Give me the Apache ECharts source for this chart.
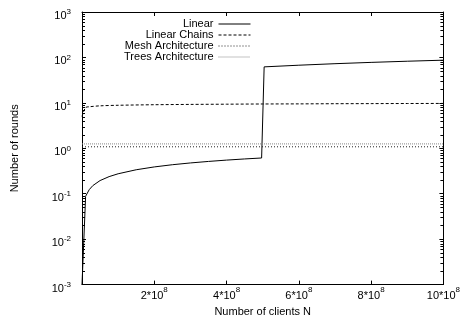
<!DOCTYPE html>
<html><head><meta charset="utf-8">
<script src="https://cdn.jsdelivr.net/npm/echarts@6/dist/echarts.min.js"></script>
<style>html,body{margin:0;padding:0;background:#fff}#c{width:463px;height:322px}</style>
</head><body><div id="c"></div>
<script>
// Number of clients N
const linearN = [0, 0.1e8, 0.2e8, 0.3e8, 0.5e8, 0.75e8, 1e8, 1.5e8, 2e8, 2.5e8, 3e8, 3.5e8, 4e8, 4.5e8, 4.97e8, 5.04e8, 6e8, 7e8, 8e8, 9e8, 10e8];
const linearRounds = [0.001, 0.088, 0.123, 0.151, 0.195, 0.238, 0.275, 0.337, 0.389, 0.435, 0.476, 0.514, 0.55, 0.583, 0.612, 62.0, 67.4, 72.8, 77.8, 82.5, 87.0];
const chainN = [0, 0.1e8, 0.2e8, 0.5e8, 1e8, 2e8, 3e8, 4e8, 5e8, 6e8, 7e8, 8e8, 9e8, 10e8];
const chainRounds = [5.0, 7.9, 8.2, 8.6, 8.85, 9.1, 9.25, 9.35, 9.45, 9.5, 9.58, 9.63, 9.68, 9.72];
const meshN = [0, 10e8];
const meshRounds = [1.08, 1.08];
const treesN = [0, 10e8];
const treesRounds = [1.25, 1.25];
const seriesNames = ['Linear', 'Linear Chains', 'Mesh Architecture', 'Trees Architecture'];
const minorTickValues = [];
[0.001, 0.01, 0.1, 1, 10, 100].forEach(d => { for (let k = 2; k <= 9; k++) minorTickValues.push(d * k); });
const xTickStep = 2e8;

const pairs = (xs, ys) => xs.map((x, i) => [x, ys[i]]);
const FONT = 'Liberation Sans, Arial, sans-serif';
const chart = echarts.init(document.getElementById('c'), null, {renderer: 'canvas'});

const yLabel = {
  show: true, margin: 11, fontFamily: FONT, color: '#000',
  formatter: v => '{b|10}{s|' + Math.round(Math.log10(v)) + '}',
  rich: {
    b: {fontSize: 11, lineHeight: 12, padding: [8, 0, 0, 0], fontFamily: FONT, color: '#000'},
    s: {fontSize: 8, lineHeight: 10, fontFamily: FONT, color: '#000'}
  }
};
const xLabel = {
  show: true, margin: 2, fontFamily: FONT, color: '#000',
  formatter: v => v === 0 ? '' : '{b|' + Math.round(v / 1e8) + '*10}{s|8}',
  rich: {
    b: {fontSize: 11, lineHeight: 12, padding: [6, 0, 0, 0], fontFamily: FONT, color: '#000'},
    s: {fontSize: 8, lineHeight: 10, padding: [0, 0, 6, 0], fontFamily: FONT, color: '#000'}
  }
};
const axisLine = {show: true, onZero: false, lineStyle: {color: '#000', width: 1}};
const tick = {show: true, inside: true, length: 4, lineStyle: {color: '#000', width: 1}};

chart.setOption({
  animation: false,
  backgroundColor: '#fff',
  grid: {left: 82, right: 19, top: 12, bottom: 36, containLabel: false},
  legend: {
    data: seriesNames, orient: 'vertical', align: 'right',
    right: 207, top: 13.5, itemWidth: 32, itemHeight: 8, itemGap: 0,
    itemStyle: {opacity: 0}, lineStyle: {width: 1},
    textStyle: {fontSize: 11, fontFamily: FONT, color: '#000', lineHeight: 11},
    selectedMode: false
  },
  xAxis: [
    {type: 'value', min: 0, max: 10e8, interval: xTickStep, position: 'bottom',
     axisLine, axisTick: tick, axisLabel: xLabel, splitLine: {show: false},
     name: 'Number of clients N', nameLocation: 'middle', nameGap: 20,
     nameTextStyle: {fontSize: 11, fontFamily: FONT, color: '#000'}},
    {type: 'value', min: 0, max: 10e8, interval: xTickStep, position: 'top',
     axisLine, axisTick: tick, axisLabel: {show: false}, splitLine: {show: false}}
  ],
  yAxis: [
    {type: 'log', logBase: 10, min: 0.001, max: 1000, splitNumber: 6, position: 'left',
     axisLine, axisTick: tick, axisLabel: yLabel, splitLine: {show: false},
     name: 'Number of rounds', nameLocation: 'middle', nameGap: 62, nameRotate: 90,
     nameTextStyle: {fontSize: 11, fontFamily: FONT, color: '#000'}},
    {type: 'log', logBase: 10, min: 0.001, max: 1000, splitNumber: 6, position: 'right',
     axisLine, axisTick: tick, axisLabel: {show: false}, splitLine: {show: false}}
  ],
  series: [
    {name: seriesNames[0], type: 'line', data: pairs(linearN, linearRounds), symbol: 'none',
     lineStyle: {color: '#000', width: 1, type: 'solid'}, itemStyle: {color: '#000', opacity: 0}},
    {name: seriesNames[1], type: 'line', data: pairs(chainN, chainRounds), symbol: 'none', smooth: 0.3,
     lineStyle: {color: '#000', width: 1, type: [3, 2]}, itemStyle: {color: '#000', opacity: 0}},
    {name: seriesNames[2], type: 'line', data: pairs(meshN, meshRounds), symbol: 'none',
     lineStyle: {color: '#222', width: 1, type: [1, 2]}, itemStyle: {color: '#222', opacity: 0}},
    {name: seriesNames[3], type: 'line', data: pairs(treesN, treesRounds), symbol: 'none',
     lineStyle: {color: '#888', width: 1, type: [1, 1]}, itemStyle: {color: '#888', opacity: 0}},
    {name: 'minorTicks', type: 'custom', silent: true, z: 5, clip: false,
     xAxisIndex: 0, yAxisIndex: 0,
     data: minorTickValues.map(v => [0, v]),
     encode: {x: 0, y: 1},
     renderItem: (params, api) => {
       const v = api.value(1);
       const a = api.coord([0, v]);
       const b = api.coord([10e8, v]);
       const y = Math.round(a[1]) + 0.5;
       return {type: 'group', children: [
         {type: 'line', shape: {x1: a[0], y1: y, x2: a[0] + 3, y2: y}, style: {stroke: '#000', lineWidth: 1}},
         {type: 'line', shape: {x1: b[0] - 3, y1: y, x2: b[0], y2: y}, style: {stroke: '#000', lineWidth: 1}}
       ]};
     }}
  ]
});
</script>
</body></html>
